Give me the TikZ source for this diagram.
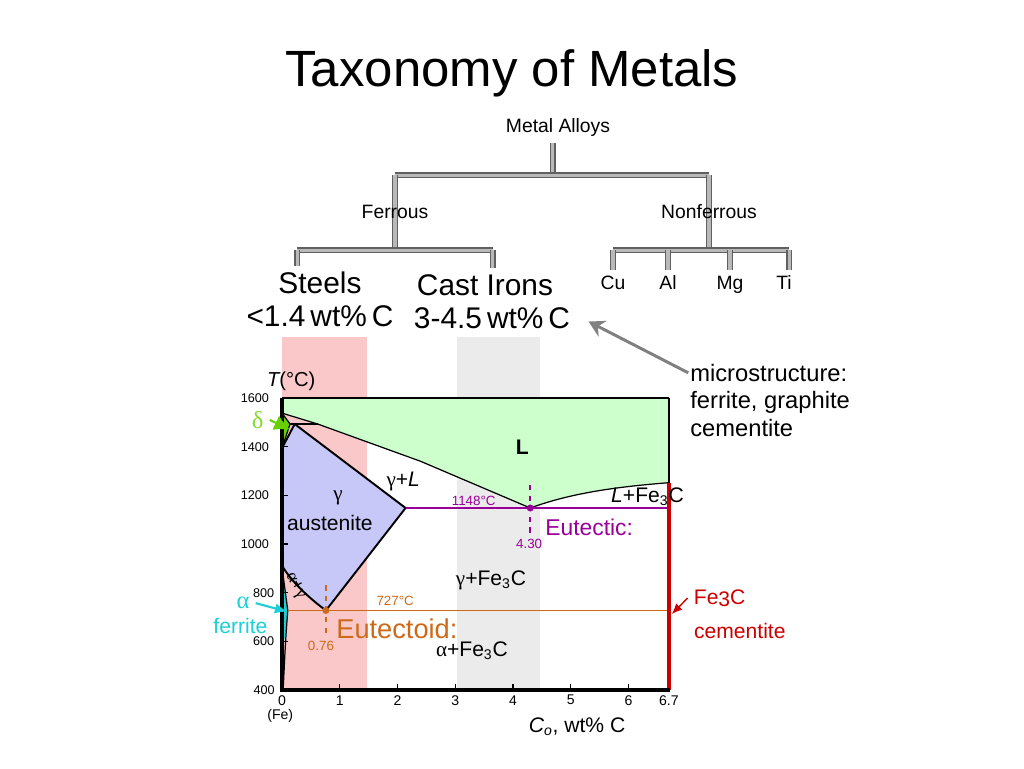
\documentclass[tikz,border=0pt]{standalone}
\usepackage{fontspec}
\setmainfont{Liberation Sans}
\newfontfamily\grk{Liberation Serif}
\usetikzlibrary{positioning}
\usetikzlibrary{arrows.meta}
\usetikzlibrary{backgrounds}

\definecolor{liqgreen}{HTML}{CCFFCC}
\definecolor{austblue}{HTML}{C8C8F8}
\definecolor{deltagreen}{HTML}{66D000}
\definecolor{ferrcyan}{HTML}{1CCFD6}
\definecolor{eutoid}{HTML}{CC6A1A}
\definecolor{eutic}{HTML}{990099}
\definecolor{cemred}{HTML}{CC0000}
\definecolor{steelband}{HTML}{FAC8C8}
\definecolor{ironband}{HTML}{EBEBEB}

\newcommand{\gammasym}{{\grk γ}}
\newcommand{\alphasym}{{\grk α}}
\newcommand{\deltasym}{{\grk δ}}

\tikzset{
  branch/.style={draw=gray!75!black, line width=0.8pt, double=gray!55, double distance=1.8pt},
  treelbl/.style={font=\fontsize{11}{13}\selectfont, text height=8pt, text depth=2.4pt},
  bigtxt/.style={font=\fontsize{17}{20}\selectfont},
  phaselbl/.style={font=\fontsize{12}{14}\selectfont},
  smalllbl/.style={font=\fontsize{7.6}{9}\selectfont},
  ticklbl/.style={font=\fontsize{7.2}{9}\selectfont},
  bound/.style={draw=black, line width=1.1pt, line join=round},
  thinb/.style={draw=black, line width=0.7pt, line join=round},
}

\begin{document}
\begin{tikzpicture}[x=0.02cm, y=-0.02cm]
\useasboundingbox (0,0) rectangle (1024,768);

% title and taxonomy tree
\node[font=\fontsize{29}{35}\selectfont] (title) at (512,73) {Taxonomy of Metals};
\node[treelbl] (alloys) at (558,128) {Metal Alloys};
\node[treelbl] (ferrous) at (395,214) {Ferrous};
\node[treelbl] (nonferrous) at (709,214) {Nonferrous};
\node[bigtxt] (steels) at (320,283) {Steels};
\node[bigtxt] (steelpct) at (320,316) {<1.4\,wt\%\,C};
\node[bigtxt] (cast) at (485,285) {Cast Irons};
\node[bigtxt] (castpct) at (492,318) {3-4.5\,wt\%\,C};
\node[treelbl] (cu) at (613,285) {Cu};
\node[treelbl] (al) at (668,285) {Al};
\node[treelbl] (mg) at (730,285) {Mg};
\node[treelbl] (ti) at (784,285) {Ti};

\coordinate (rootstem) at ([xshift=-3pt]alloys.south);
\coordinate (steelstem) at ([xshift=-13pt]steels.north);
\coordinate (caststem) at ([xshift=4.5pt]cast.north);
\coordinate (tistem) at ([xshift=3pt]ti.north);
\path (rootstem) ++(0,32) coordinate (rootjoin);
\path (ferrous.center |- rootjoin) ++(0,75) coordinate (ferrjoin);
\path (nonferrous.center |- rootjoin) ++(0,75) coordinate (nonfjoin);

\begin{scope}[on background layer]
  \draw[branch] (rootstem) -- (rootjoin);
  \draw[branch] (ferrous.center |- rootjoin) -- (nonferrous.center |- rootjoin);
  \draw[branch] (ferrous.center |- rootjoin) -- (ferrjoin);
  \draw[branch] (nonferrous.center |- rootjoin) -- (nonfjoin);
  \draw[branch] (steelstem |- ferrjoin) -- (caststem |- ferrjoin);
  \draw[branch] (steelstem |- ferrjoin) -- (steelstem);
  \draw[branch] (caststem |- ferrjoin) -- (caststem);
  \draw[branch] (cu.north |- nonfjoin) -- (tistem |- nonfjoin);
  \foreach \m in {cu,al,mg} \draw[branch] (\m.north |- nonfjoin) -- (\m.north);
  \draw[branch] (tistem |- nonfjoin) -- (tistem);
\end{scope}

% Fe-Fe3C phase diagram
\begin{scope}[shift={(282,690)}, x=1.155cm, y=0.04867mm, yshift=-19.468mm]
  \fill[steelband] (0,400) rectangle (1.47,1851);
  \fill[ironband] (3.03,400) rectangle (4.47,1851);

  \fill[liqgreen] (0,1600) -- (6.7,1600) -- (6.7,1252)
    .. controls (5.6,1232) and (4.9,1200) .. (4.3,1148)
    -- (2.4,1340) -- (0.62,1493) -- (0,1538) -- cycle;
  \fill[austblue] (0,1394) -- (0.22,1493) -- (2.14,1148) -- (0.76,727)
    .. controls (0.4,790) and (0.12,860) .. (0,912) -- cycle;
  \fill[deltagreen] (0,1538) -- (0.14,1493) -- (0,1394) -- cycle;
  \fill[ferrcyan] (0,905) -- (0.1,727) .. controls (0.07,640) .. (0,560) -- cycle;

  % phase boundaries
  \draw[thinb] (0,1538) -- (0.62,1493) -- (2.4,1340) -- (4.3,1148)
    .. controls (4.9,1200) and (5.6,1232) .. (6.7,1252);
  \draw[thinb] (0,1538) -- (0.14,1493) -- (0,1394);
  \draw[thinb] (0.14,1493) -- (0.62,1493);
  \draw[bound] (0,1394) -- (0.22,1493) -- (2.14,1148) -- (0.76,727)
    .. controls (0.4,790) and (0.12,860) .. (0,912);
  \draw[thinb] (0,905) -- (0.1,727) .. controls (0.06,600) .. (0.02,400);

  % eutectic and eutectoid
  \draw[eutic, line width=0.6pt] (2.14,1148) -- (6.7,1148);
  \draw[eutic, line width=1.2pt, dashed] (4.3,1242) -- (4.3,1045);
  \fill[eutic] (4.3,1148) circle (2pt);
  \draw[eutoid, line width=0.8pt] (0.1,727) -- (6.7,727);
  \draw[eutoid, line width=1.2pt, dashed] (0.76,830) -- (0.76,618);
  \fill[eutoid] (0.76,727) circle (2pt);

  % frame and axes
  \draw[line width=1.2pt] (0,1600) -- (6.7,1600);
  \draw[line width=0.8pt] (6.7,1600) -- (6.7,1252);
  \draw[cemred, line width=2.3pt] (6.7,1252) -- (6.7,400);
  \draw[line width=1.8pt] (0,1600) -- (0,400) -- (6.72,400);
  \foreach \t in {600,800,...,1400} \draw[line width=0.8pt] (0,\t) -- (0.1,\t);
  \foreach \c in {1,...,6} \draw[line width=0.8pt] (\c,400) -- (\c,425);

  \foreach \t/\dx in {1600/-0.19,1400/-0.19,1200/-0.19,1000/-0.19,800/-0.1,600/-0.1,400/-0.09}
    \node[ticklbl, anchor=east, inner sep=1pt] (ty\t) at (\dx,\t) {\t};
  \foreach \c in {0,...,6}
    \node[ticklbl, font=\fontsize{8}{9}\selectfont] (cx\c) at (\c,358) {\c};
  \node[ticklbl, font=\fontsize{8}{9}\selectfont] (cx67) at (6.7,358) {6.7};
  \node[ticklbl, font=\fontsize{8}{9}\selectfont] (fe) at (-0.03,293) {(Fe)};
  \node[font=\fontsize{12}{14}\selectfont] (xtitle) at (5.11,248) {{\itshape C}\textsubscript{\itshape o}, wt\% C};
  \node[font=\fontsize{11.5}{14}\selectfont] (ytitle) at (0.16,1670) {{\itshape T}(°C)};

  % phase labels
  \node[phaselbl, font=\bfseries\fontsize{12}{14}\selectfont] (liq) at (4.16,1399) {L};
  \node[phaselbl] (gamliq) at (2.10,1255) {\gammasym+{\itshape L}};
  \node[phaselbl] (gam) at (0.97,1189) {\gammasym};
  \node[phaselbl] (aust) at (0.83,1086) {austenite};
  \node[phaselbl] (liqcem) at (6.33,1193) {{\itshape L}+Fe\textsubscript{3}C};
  \node[phaselbl] (gamcem) at (3.62,852) {\gammasym+Fe\textsubscript{3}C};
  \node[phaselbl] (alpcem) at (3.29,562) {\alphasym+Fe\textsubscript{3}C};
  \node[phaselbl, font=\fontsize{10}{12}\selectfont, rotate=-62, inner sep=1pt] (alpgam) at (0.23,828) {\alphasym+\gammasym};

  \node[smalllbl, text=eutic] (tic) at (3.32,1177) {1148°C};
  \node[smalllbl, text=eutic] (cic) at (4.28,1000) {4.30};
  \node[font=\fontsize{13}{15}\selectfont, text=eutic] (eutlbl) at (5.32,1070) {Eutectic:};
  \node[smalllbl, text=eutoid] (toid) at (1.96,766) {727°C};
  \node[smalllbl, text=eutoid] (coid) at (0.675,581) {0.76};
  \node[font=\fontsize{15.5}{18}\selectfont, text=eutoid] (eoidlbl) at (1.99,653) {Eutectoid:};

  % phase pointers
  \node[font=\fontsize{14}{16}\selectfont, text=deltagreen!80!white] (dlt) at (-0.42,1510) {\deltasym};
  \coordinate (dlttip) at (0.14,1470);
  \draw[deltagreen, line width=1.2pt, -{Latex[length=9pt,width=9pt]}] (dlt.east) -- (dlttip);

  \node[font=\fontsize{14}{16}\selectfont, text=ferrcyan] (alp) at (-0.675,757) {\alphasym};
  \node[font=\fontsize{12}{14}\selectfont, text=ferrcyan] (ferr) at (-0.72,662) {ferrite};
  \coordinate (alptip) at (0.09,722);
  \draw[ferrcyan, line width=1.2pt, -{Latex[length=7pt,width=6pt]}] (alp.east) -- (alptip);

  \node[font=\fontsize{12}{14}\selectfont, text=cemred] (fecarb) at (7.58,778) {Fe\raisebox{-0.2ex}{3}C};
  \node[font=\fontsize{12}{14}\selectfont, text=cemred] (cem) at (7.93,642) {cementite};
  \coordinate (cemtip) at (6.75,712);
  \draw[cemred, line width=0.8pt, -{Latex[length=6pt,width=5pt]}] (fecarb.west) -- (cemtip);
\end{scope}

% microstructure note
\node[anchor=north west, align=left, inner sep=0pt,
      font=\fontsize{13.5}{15.6}\selectfont] (micro) at (690,364)
  {microstructure:\\ferrite, graphite\\cementite};
\draw[gray, line width=1.7pt, -{Stealth[length=9pt,width=10pt,inset=3pt]}]
  ([xshift=-1pt,yshift=-5pt]micro.north west) -- ([xshift=7pt,yshift=-2pt]castpct.east);
\end{tikzpicture}
\end{document}
